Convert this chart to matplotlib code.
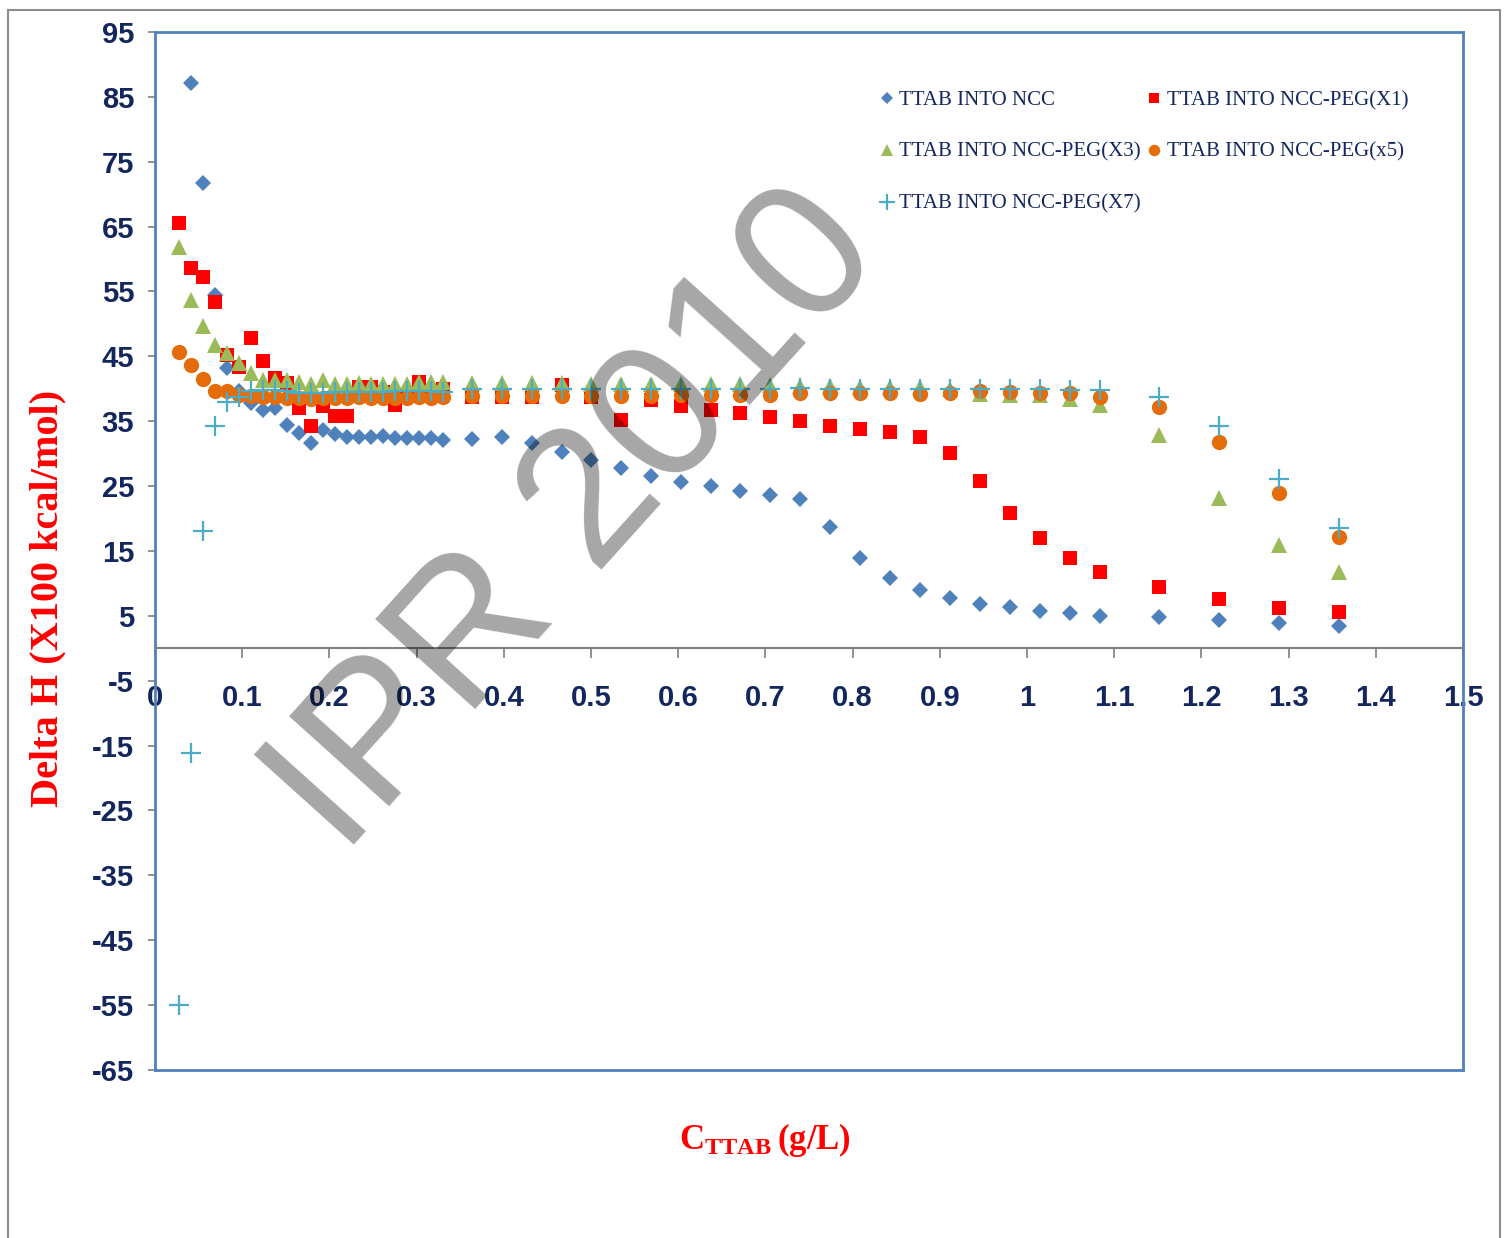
import matplotlib
matplotlib.use('Agg')
import matplotlib.pyplot as plt
from matplotlib.patches import Rectangle

# TTAB concentration (g/L) at each titration step
conc = [0.0275, 0.0412, 0.0550, 0.0687, 0.0825, 0.0962, 0.1100, 0.1237, 0.1375, 0.1512,
        0.1649, 0.1787, 0.1924, 0.2062, 0.2199, 0.2337, 0.2474, 0.2612, 0.2749, 0.2887,
        0.3024, 0.3162, 0.3299, 0.3631, 0.3975, 0.4318, 0.4662, 0.5006, 0.5349, 0.5693,
        0.6037, 0.6380, 0.6712, 0.7056, 0.7400, 0.7743, 0.8087, 0.8431, 0.8774, 0.9118,
        0.9462, 0.9805, 1.0149, 1.0493, 1.0836, 1.1512, 1.2199, 1.2887, 1.3574]

# TTAB into NCC (first step not shown)
ncc = [87.1, 71.7, 54.5, 43.2, 39.6, 37.8, 36.7, 37.0, 34.4, 33.2,
       31.6, 33.6, 33.0, 32.6, 32.6, 32.6, 32.7, 32.4, 32.4, 32.4,
       32.4, 32.1, 32.3, 32.6, 31.6, 30.3, 29.0, 27.8, 26.6, 25.7,
       25.0, 24.2, 23.6, 23.0, 18.7, 13.9, 10.8, 9.0, 7.7, 6.8,
       6.3, 5.8, 5.4, 5.0, 4.8, 4.4, 3.9, 3.4]

peg_x1 = [65.5, 58.6, 57.3, 53.3, 45.2, 43.3, 47.8, 44.3, 41.6, 40.9,
          37.0, 34.2, 37.3, 35.8, 35.8, 40.3, 40.3, 39.5, 37.5, 39.0,
          41.0, 39.5, 40.0, 38.8, 38.8, 38.8, 40.6, 38.8, 35.2, 38.2,
          37.4, 36.8, 36.3, 35.6, 35.1, 34.3, 33.8, 33.4, 32.6, 30.1,
          25.8, 20.9, 17.0, 13.9, 11.7, 9.5, 7.6, 6.2, 5.6]

peg_x3 = [61.9, 53.7, 49.7, 46.8, 45.5, 43.9, 42.5, 41.4, 41.3, 41.4,
          41.0, 40.8, 41.3, 40.8, 40.8, 40.9, 40.8, 40.8, 40.8, 40.7,
          41.0, 41.0, 41.0, 40.9, 40.9, 40.9, 40.9, 40.8, 40.8, 40.8,
          40.7, 40.7, 40.7, 40.6, 40.4, 40.4, 40.3, 40.3, 40.2, 40.0,
          39.2, 39.0, 39.0, 38.5, 37.5, 32.9, 23.1, 15.9, 11.7]

peg_x5 = [45.6, 43.7, 41.5, 39.7, 39.6, 39.0, 38.9, 38.7, 38.7, 38.6,
          38.6, 38.5, 38.6, 38.6, 38.6, 38.7, 38.6, 38.6, 38.6, 38.6,
          38.7, 38.6, 38.7, 38.9, 38.9, 38.9, 38.9, 38.9, 38.9, 38.9,
          39.0, 39.0, 39.0, 39.1, 39.3, 39.3, 39.3, 39.3, 39.2, 39.3,
          39.6, 39.5, 39.4, 39.3, 38.7, 37.2, 31.8, 24.0, 17.2]

peg_x7 = [-55.0, -16.1, 18.1, 34.3, 38.0, 38.8, 39.6, 39.8, 39.8, 39.6,
          39.4, 39.4, 39.4, 39.5, 39.5, 39.5, 39.5, 39.5, 39.6, 39.6,
          39.6, 39.6, 39.5, 39.9, 39.9, 39.9, 39.9, 39.9, 39.9, 39.9,
          39.9, 39.9, 39.9, 39.9, 40.1, 40.0, 40.0, 40.0, 40.0, 40.0,
          39.9, 39.9, 39.9, 39.8, 39.8, 38.8, 34.3, 26.1, 18.6]

xticks = [0, 0.1, 0.2, 0.3, 0.4, 0.5, 0.6, 0.7, 0.8, 0.9, 1.0, 1.1, 1.2, 1.3, 1.4, 1.5]
xtick_labels = ['0', '0.1', '0.2', '0.3', '0.4', '0.5', '0.6', '0.7', '0.8', '0.9',
                '1', '1.1', '1.2', '1.3', '1.4', '1.5']
yticks = list(range(-65, 96, 10))

navy = '#13275E'
border_blue = '#4F81BD'

plt.rcParams['axes.unicode_minus'] = False
plt.rcParams['mathtext.fontset'] = 'custom'
plt.rcParams['mathtext.bf'] = 'Liberation Serif:bold'
plt.rcParams['mathtext.rm'] = 'Liberation Serif:bold'

fig = plt.figure(figsize=(15.09, 12.38), dpi=100)
ax = fig.add_axes([0.1027, 0.1357, 0.8668, 0.8385])

h1, = ax.plot(conc[1:], ncc, 'D', color='#4F81BD', markersize=8.5, mew=0,
              label='TTAB INTO NCC')
h2, = ax.plot(conc, peg_x1, 's', color='#FF0000', markersize=10.5, mew=0,
              label='TTAB INTO NCC-PEG(X1)')
h3, = ax.plot(conc, peg_x3, '^', color='#9BBB59', markersize=11.5, mew=0,
              label='TTAB INTO NCC-PEG(X3)')
h4, = ax.plot(conc, peg_x5, 'o', color='#E46C0A', markersize=11, mew=0,
              label='TTAB INTO NCC-PEG(x5)')
h5, = ax.plot(conc, peg_x7, '+', color='#4BACC6', markersize=15, mew=1.6,
              label='TTAB INTO NCC-PEG(X7)')

ax.set_xlim(0, 1.5)
ax.set_ylim(-65, 95)
ax.set_xticks(xticks)
ax.set_xticklabels(xtick_labels)
ax.set_yticks(yticks)

for side in ['left', 'top', 'right']:
    ax.spines[side].set_color(border_blue)
    ax.spines[side].set_linewidth(2)
ax.spines['bottom'].set_position(('data', 0))
ax.spines['bottom'].set_color('#7F7F7F')
ax.spines['bottom'].set_linewidth(1.5)
ax.plot([0, 1], [0, 0], transform=ax.transAxes, color=border_blue, lw=2, clip_on=False)

ax.tick_params(axis='y', direction='out', length=5, width=1.2, color='#7F7F7F', pad=10)
ax.tick_params(axis='x', direction='out', length=7, width=1.2, color='#7F7F7F', pad=19)
for lab in ax.get_xticklabels() + ax.get_yticklabels():
    lab.set_family('Liberation Sans')
    lab.set_fontweight('bold')
    lab.set_fontsize(21)
    lab.set_color(navy)

leg = ax.legend(handles=[h1, h3, h5, h2, h4], ncol=2, frameon=False,
                loc='upper left', bbox_to_anchor=(0.5752, 0.9353),
                bbox_transform=fig.transFigure, borderpad=0,
                handlelength=0.8, handletextpad=0.2, columnspacing=0.25,
                labelspacing=1.55, markerscale=0.75,
                prop={'family': 'Liberation Serif', 'size': 15})
for t in leg.get_texts():
    t.set_color(navy)

fig.text(0.032, 0.517, 'Delta H (X100 kcal/mol)', rotation=90, ha='center', va='center',
         color='red', fontsize=29, fontweight='bold', family='Liberation Serif')
fig.text(0.507, 0.079, r'$\mathbf{C_{TTAB}\,(g/L)}$', ha='center', va='center',
         color='red', fontsize=25)

# watermark
fig.text(0.382, 0.578, 'IPR 2010', rotation=48, ha='center', va='center',
         rotation_mode='anchor', fontsize=140, family='Liberation Sans',
         color='black', alpha=0.35, zorder=10)

fig.patches.append(Rectangle((8 / 1509, -0.02), 1492 / 1509, 1.02 - 10 / 1238,
                             transform=fig.transFigure, fill=False,
                             edgecolor='#8C8C8C', lw=1.5))

plt.savefig('out.png', dpi=100)
